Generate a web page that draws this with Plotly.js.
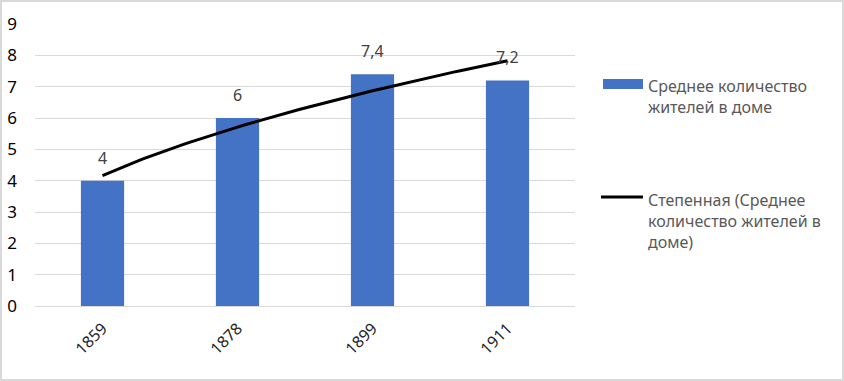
<!DOCTYPE html>
<html><head><meta charset="utf-8">
<script src="https://cdn.plot.ly/plotly-3.0.1.min.js"></script>
<style>html,body{margin:0;padding:0;background:#fff}#chart{width:844px;height:381px}</style>
</head><body><div id="chart"></div>
<script>
const years = ['1859', '1878', '1899', '1911'];
const residents = [4, 6, 7.4, 7.2];
const seriesName = 'Среднее количество<br>жителей в доме';
const trendName = 'Степенная (Среднее<br>количество жителей в<br>доме)';

// Power trendline (as Excel does): y = a * x^b fitted on category index x = 1..n
const idx = residents.map((_, i) => i + 1);
const lx = idx.map(Math.log), ly = residents.map(Math.log);
const mx = lx.reduce((s, v) => s + v, 0) / lx.length;
const my = ly.reduce((s, v) => s + v, 0) / ly.length;
let sxy = 0, sxx = 0;
lx.forEach((v, i) => { sxy += (v - mx) * (ly[i] - my); sxx += (v - mx) * (v - mx); });
const b = sxy / sxx, a = Math.exp(my - b * mx);
const tX = [], tY = [];
for (let k = 0; k <= 60; k++) { const x = 1 + 3 * k / 60; tX.push(x - 1); tY.push(a * Math.pow(x, b)); }

const txtFont = {family: 'Noto Sans, sans-serif', size: 16, color: '#595959'};

const traces = [
  {type: 'bar', x: [0, 1, 2, 3], y: residents, marker: {color: '#4472C4'}, width: 0.32, hoverinfo: 'y', showlegend: false},
  {type: 'scatter', mode: 'lines', x: tX, y: tY, line: {color: '#000000', width: 3}, hoverinfo: 'skip', showlegend: false}
];

const annotations = residents.map((v, i) => ({
  x: i, y: v, xref: 'x', yref: 'y', text: String(v).replace('.', ','), showarrow: false,
  yanchor: 'bottom', yshift: 10, font: {family: 'Noto Sans, sans-serif', size: 16, color: '#404040'}
}));
annotations.push({xref: 'paper', yref: 'paper', x: 1.132, y: 0.826, xanchor: 'left', yanchor: 'top',
  text: seriesName, showarrow: false, align: 'left', font: txtFont});
annotations.push({xref: 'paper', yref: 'paper', x: 1.132, y: 0.422, xanchor: 'left', yanchor: 'top',
  text: trendName, showarrow: false, align: 'left', font: txtFont});

const layout = {
  width: 844, height: 381,
  margin: {l: 35, r: 269, t: 24, b: 75},
  paper_bgcolor: '#ffffff', plot_bgcolor: '#ffffff',
  xaxis: {
    tickmode: 'array', tickvals: [0, 1, 2, 3], ticktext: years, range: [-0.5, 3.5],
    tickangle: -45, showgrid: false, zeroline: false, showline: false, ticks: '',
    ticklabelstandoff: 9,
    tickfont: {family: 'Noto Sans, sans-serif', size: 16, color: '#262626'}, fixedrange: true
  },
  yaxis: {
    range: [0, 9], dtick: 1, tick0: 0, showgrid: true, gridcolor: '#d9d9d9', gridwidth: 1,
    zeroline: true, zerolinecolor: '#d9d9d9', zerolinewidth: 1, showline: false, ticks: '',
    ticklabelstandoff: 17,
    tickfont: {family: 'Noto Sans, sans-serif', size: 17, color: '#000000'}, fixedrange: true
  },
  annotations: annotations,
  shapes: [
    {type: 'rect', xref: 'paper', yref: 'paper', x0: 1.0519, x1: 1.1259, y0: 0.7695, y1: 0.805,
     fillcolor: '#4472C4', line: {width: 0}},
    {type: 'line', xref: 'paper', yref: 'paper', x0: 1.0481, x1: 1.1259, y0: 0.3865, y1: 0.3865,
     line: {color: '#000000', width: 3}}
  ],
  showlegend: false
};

Plotly.newPlot('chart', traces, layout, {displayModeBar: false, staticPlot: true}).then(() => {
  const svg = document.querySelector('#chart .main-svg');
  const r = document.createElementNS('http://www.w3.org/2000/svg', 'rect');
  r.setAttribute('x', 1); r.setAttribute('y', 1); r.setAttribute('width', 842); r.setAttribute('height', 379);
  r.setAttribute('fill', 'none'); r.setAttribute('stroke', '#d9d9d9'); r.setAttribute('stroke-width', 2);
  svg.appendChild(r);
});
</script></body></html>
